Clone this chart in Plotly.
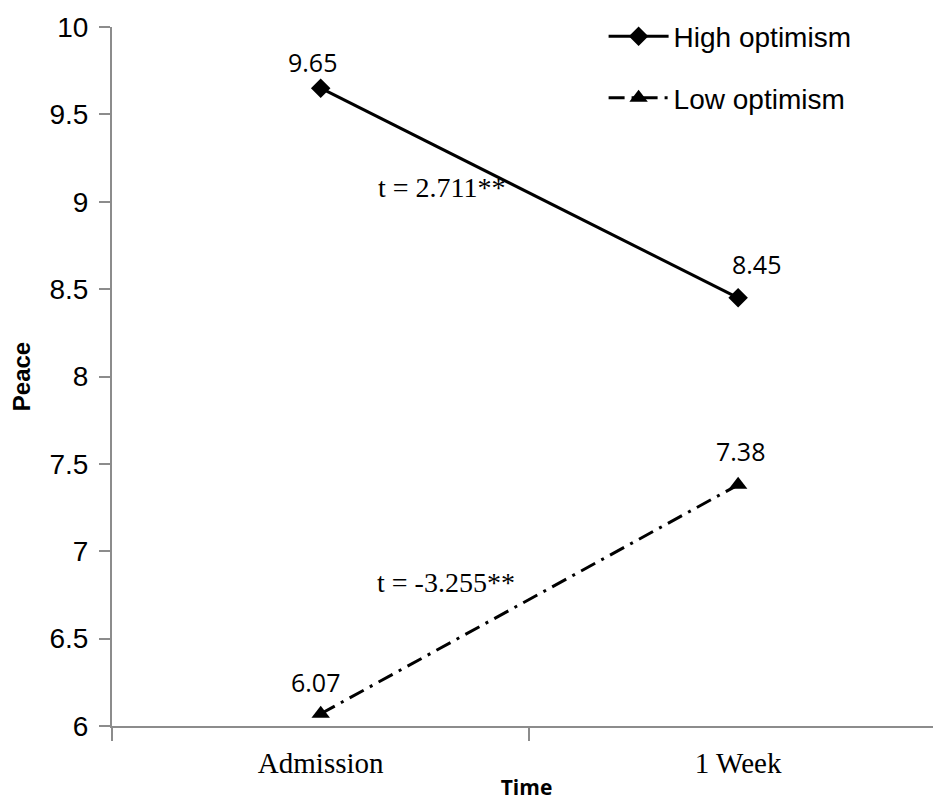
import plotly.graph_objects as go

times = ["Admission", "1 Week"]
high_optimism = [9.65, 8.45]
low_optimism = [6.07, 7.38]
high_labels = ["9.65", "8.45"]
low_labels = ["6.07", "7.38"]
y_ticks = [6, 6.5, 7, 7.5, 8, 8.5, 9, 9.5, 10]
t_high = "t = 2.711**"
t_low = "t = -3.255**"

sans = "Liberation Sans, Arial"
serif = "Liberation Serif, Times New Roman"
label_font = dict(family="Open Sans, " + sans, size=25, color="black")

fig = go.Figure()
fig.add_trace(go.Scatter(
    x=times, y=high_optimism, name="High optimism", legendgroup="h",
    mode="lines+markers",
    line=dict(color="black", width=3),
    marker=dict(symbol="diamond", size=15, color="black"),
))
fig.add_trace(go.Scatter(
    x=times, y=low_optimism, name="Low optimism", legendgroup="l",
    mode="lines+markers",
    line=dict(color="black", width=3, dash="16px,7px,3px,7px"),
    marker=dict(symbol="triangle-up", size=16, color="black"),
))

# value labels placed at the data points
high_shifts = [(-8, 26), (18, 34)]
low_shifts = [(-5, 32), (2, 34)]
for xv, yv, lab, (dx, dy) in zip(times, high_optimism, high_labels, high_shifts):
    fig.add_annotation(x=xv, y=yv, text=lab, showarrow=False, xshift=dx, yshift=dy, font=label_font)
for xv, yv, lab, (dx, dy) in zip(times, low_optimism, low_labels, low_shifts):
    fig.add_annotation(x=xv, y=yv, text=lab, showarrow=False, xshift=dx, yshift=dy, font=label_font)

fig.add_annotation(x=0.29, y=9.08, text=t_high, showarrow=False,
                   font=dict(family=serif, size=28, color="black"))
fig.add_annotation(x=0.3, y=6.82, text=t_low, showarrow=False,
                   font=dict(family=serif, size=28, color="black"))

fig.update_layout(
    width=933, height=798,
    margin=dict(l=104, r=0, t=19, b=80),
    plot_bgcolor="white", paper_bgcolor="white",
    showlegend=True,
    legend=dict(x=0.593, y=1.022, xanchor="left", yanchor="top",
                font=dict(family=sans, size=28, color="black"),
                bgcolor="rgba(0,0,0,0)", itemwidth=60, tracegroupgap=22),
    xaxis=dict(
        type="category", range=[-0.5, 1.486], tickson="boundaries",
        showline=True, linecolor="#8c8c8c", linewidth=2,
        ticks="outside", ticklen=13, tickcolor="#8c8c8c", tickwidth=2,
        showgrid=False, zeroline=False, ticklabelstandoff=10,
        tickfont=dict(family=serif, size=29, color="black"),
        title=dict(text="<b>Time</b>", font=dict(family="Open Sans, " + sans, size=21, color="black"), standoff=3),
    ),
    yaxis=dict(
        range=[6, 10], tickvals=y_ticks,
        showline=True, linecolor="#8c8c8c", linewidth=2,
        ticks="outside", ticklen=11, tickcolor="#8c8c8c", tickwidth=2,
        showgrid=False, zeroline=False, ticklabelstandoff=5,
        tickfont=dict(family=sans, size=28, color="black"),
        title=dict(text="<b>Peace</b>", font=dict(family=sans, size=24, color="black"), standoff=14),
    ),
)

fig.write_html("out.html")
